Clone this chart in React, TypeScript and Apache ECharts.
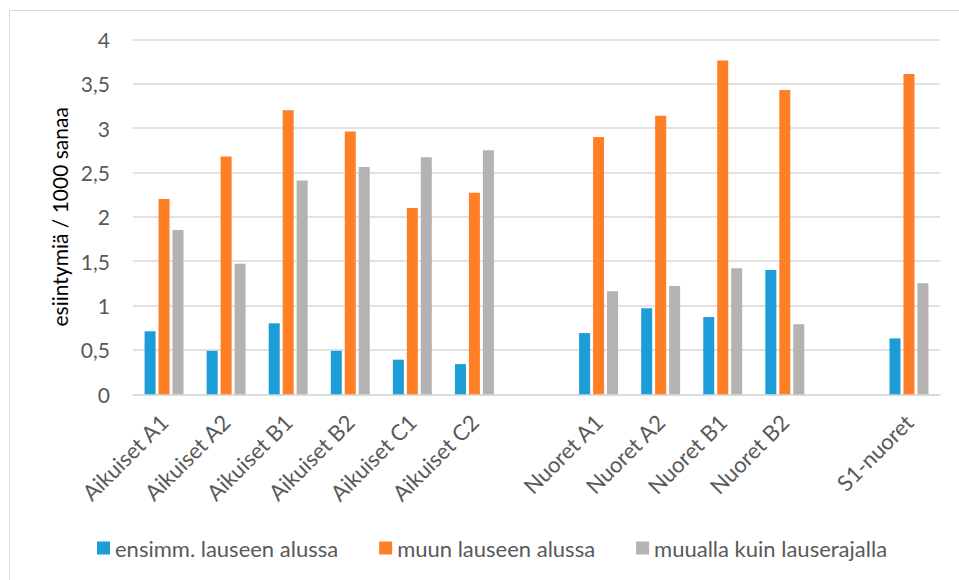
import React, { useEffect, useRef } from "react";
import * as echarts from "echarts";

const categories = [
  "Aikuiset A1",
  "Aikuiset A2",
  "Aikuiset B1",
  "Aikuiset B2",
  "Aikuiset C1",
  "Aikuiset C2",
  " ",
  "Nuoret A1",
  "Nuoret A2",
  "Nuoret B1",
  "Nuoret B2",
  "  ",
  "S1-nuoret",
];

const seriesNames = [
  "ensimm. lauseen alussa",
  "muun lauseen alussa",
  "muualla kuin lauserajalla",
];

const ensimmValues = [0.71, 0.49, 0.8, 0.49, 0.39, 0.34, null, 0.69, 0.97, 0.87, 1.4, null, 0.63];
const muunValues = [2.2, 2.68, 3.2, 2.96, 2.1, 2.27, null, 2.9, 3.14, 3.76, 3.43, null, 3.61];
const muuallaValues = [1.85, 1.47, 2.41, 2.56, 2.67, 2.75, null, 1.16, 1.22, 1.42, 0.79, null, 1.25];

const yAxisName = "esiintymiä / 1000 sanaa";

const colors = ["#1c9dd8", "#ff7f27", "#b4b3b2"];
const FONT = "Lato, 'Open Sans', sans-serif";

export default function App() {
  const ref = useRef<HTMLDivElement>(null);

  useEffect(() => {
    if (!ref.current) return;
    const chart = echarts.init(ref.current, undefined, { renderer: "svg" });
    const mk = (name: string, data: (number | null)[], color: string) => ({
      name,
      type: "bar",
      data: data.map((v) => (v === null ? "-" : v)),
      barWidth: 11,
      barGap: "27%",
      itemStyle: { color },
    });
    chart.setOption({
      animation: false,
      color: colors,
      textStyle: { fontFamily: FONT },
      graphic: [
        {
          type: "rect",
          shape: { x: 9.5, y: 10.5, width: 1200, height: 1200 },
          style: { fill: "none", stroke: "#d9d9d9", lineWidth: 1 },
          silent: true,
        },
      ],
      grid: { left: 133, right: 19, top: 39.3, bottom: 185.7 },
      legend: {
        left: 92,
        top: 532,
        icon: "rect",
        itemWidth: 13,
        itemHeight: 13,
        itemGap: 41,
        textStyle: { fontSize: 22, color: "#595959", fontFamily: FONT, padding: [0, 0, 0, 0] },
        data: seriesNames,
      },
      xAxis: {
        type: "category",
        data: categories,
        axisLine: { lineStyle: { color: "#d9d9d9", width: 1.5 } },
        axisTick: { show: false },
        axisLabel: {
          interval: 0,
          rotate: 45,
          fontSize: 22,
          color: "#595959",
          fontFamily: FONT,
          margin: 24,
        },
      },
      yAxis: {
        type: "value",
        min: 0,
        max: 4,
        interval: 0.5,
        name: yAxisName,
        nameLocation: "middle",
        nameRotate: 90,
        nameGap: 62,
        nameTextStyle: { fontSize: 21, color: "#000000", fontFamily: FONT },
        axisLine: { show: false },
        axisTick: { show: false },
        splitLine: { lineStyle: { color: "#d9d9d9", width: 1.5 } },
        axisLabel: {
          fontSize: 21,
          color: "#595959",
          fontFamily: FONT,
          margin: 23,
          formatter: (v: number) => String(v).replace(".", ","),
        },
      },
      series: [
        mk(seriesNames[0], ensimmValues, colors[0]),
        mk(seriesNames[1], muunValues, colors[1]),
        mk(seriesNames[2], muuallaValues, colors[2]),
      ],
    });
    return () => chart.dispose();
  }, []);

  return (
    <div
      ref={ref}
      style={{ position: "fixed", left: 0, top: 0, width: 959, height: 580, background: "#ffffff" }}
    />
  );
}
